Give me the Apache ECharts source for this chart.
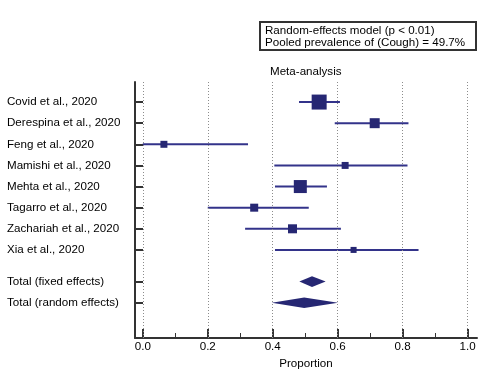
<!DOCTYPE html>
<html>
<head>
<meta charset="utf-8">
<script src="https://cdn.jsdelivr.net/npm/echarts@6/dist/echarts.min.js"></script>
<style>
html,body{margin:0;padding:0;background:#fff;}
#chart{width:486px;height:371px;}
</style>
</head>
<body>
<div id="chart"></div>
<script>
const studies = ['Covid et al., 2020','Derespina et al., 2020','Feng et al., 2020','Mamishi et al., 2020','Mehta et al., 2020','Tagarro et al., 2020','Zachariah et al., 2020','Xia et al., 2020'];
const estimates = [0.543, 0.714, 0.065, 0.623, 0.485, 0.343, 0.461, 0.649];
const lowerCI = [0.481, 0.591, 0.000, 0.405, 0.407, 0.200, 0.315, 0.407];
const upperCI = [0.607, 0.818, 0.324, 0.815, 0.567, 0.511, 0.610, 0.849];
const weights = [29.1, 12.9, 6.3, 6.3, 21.9, 8.3, 10.5, 4.7];
const pooledLabels = ['Total (fixed effects)', 'Total (random effects)'];
const pooledEst = [0.521, 0.497];
const pooledLower = [0.482, 0.397];
const pooledUpper = [0.563, 0.601];
const xTicks = [0, 0.2, 0.4, 0.6, 0.8, 1.0];
const xMinorTicks = [0.1, 0.3, 0.5, 0.7, 0.9];

const FONT = '"Liberation Sans", Arial, sans-serif';
const FS = 11.6;
const LINE_COLOR = '#33338a';
const BOX_COLOR = '#262773';
const AXIS_COLOR = '#333333';

// row positions
const studyPos = studies.map((s, i) => i + 1);
const pooledPos = pooledLabels.map((s, i) => studies.length + 1.5 + i);
const labelMap = {};
studies.forEach((s, i) => { labelMap[studyPos[i]] = s; });
pooledLabels.forEach((s, i) => { labelMap[pooledPos[i]] = s; });
const allPos = studyPos.concat(pooledPos);
const maxW = Math.max.apply(null, weights);

const studyData = studies.map((s, i) => [lowerCI[i], upperCI[i], estimates[i], studyPos[i], weights[i]]);
const pooledData = pooledLabels.map((s, i) => [pooledLower[i], pooledUpper[i], pooledEst[i], pooledPos[i]]);

const chart = echarts.init(document.getElementById('chart'), null, {renderer: 'canvas'});
chart.setOption({
  animation: false,
  textStyle: {fontFamily: FONT},
  title: [
    {
      text: 'Meta-analysis', left: 270, top: 66, padding: 0,
      textStyle: {fontSize: FS, fontWeight: 'normal', color: '#000', fontFamily: FONT}
    },
    {
      text: 'Random-effects model (p < 0.01)\nPooled prevalence of (Cough) = 49.7%',
      left: 260, top: 22, padding: [2, 11, 1, 5],
      borderColor: AXIS_COLOR, borderWidth: 2,
      textStyle: {fontSize: FS, lineHeight: 12.7, fontWeight: 'normal', color: '#000', fontFamily: FONT}
    }
  ],
  grid: {left: 135, right: 9, top: 82, bottom: 33, containLabel: false, outerBoundsMode: 'none'},
  xAxis: [
    {
      type: 'value', min: -0.024, max: 1.029, position: 'bottom',
      name: 'Proportion', nameLocation: 'middle', nameGap: 17,
      nameTextStyle: {fontSize: FS, color: '#000', fontFamily: FONT},
      axisLine: {show: true, onZero: false, lineStyle: {color: AXIS_COLOR, width: 2}},
      axisTick: {show: true, inside: true, length: 9, customValues: xTicks, lineStyle: {color: AXIS_COLOR, width: 2}},
      axisLabel: {show: true, customValues: xTicks, margin: 3, fontSize: FS, color: '#000', fontFamily: FONT,
        formatter: v => v.toFixed(1)},
      splitLine: {show: false}
    },
    {
      type: 'value', min: -0.024, max: 1.029, position: 'bottom',
      axisLine: {show: false, onZero: false},
      axisTick: {show: true, inside: true, length: 5, customValues: xMinorTicks, lineStyle: {color: AXIS_COLOR, width: 1}},
      axisLabel: {show: false},
      splitLine: {show: false}
    }
  ],
  yAxis: {
    type: 'value', inverse: true, min: 0.05, max: 12.17,
    axisLine: {show: true, onZero: false, lineStyle: {color: AXIS_COLOR, width: 2}},
    axisTick: {show: true, inside: true, length: 8, customValues: allPos, lineStyle: {color: AXIS_COLOR, width: 2}},
    axisLabel: {show: true, customValues: allPos, align: 'left', margin: 128, fontSize: FS, color: '#000', fontFamily: FONT,
      formatter: v => labelMap[v] || ''},
    splitLine: {show: false}
  },
  series: [
    {
      type: 'line', data: [], z: 1, silent: true,
      markLine: {
        silent: true, symbol: ['none', 'none'], label: {show: false},
        lineStyle: {type: [1, 2], color: '#8c8c8c', width: 1},
        data: xTicks.map(v => ({xAxis: v}))
      }
    },
    {
      type: 'custom', z: 3, silent: true,
      encode: {x: [0, 1, 2], y: 3},
      data: studyData,
      renderItem: function (params, api) {
        const y = api.value(3);
        const p1 = api.coord([api.value(0), y]);
        const p2 = api.coord([api.value(1), y]);
        const pc = api.coord([api.value(2), y]);
        const s = 15 * Math.sqrt(api.value(4) / maxW);
        return {
          type: 'group',
          children: [
            {type: 'line', shape: {x1: p1[0], y1: p1[1], x2: p2[0], y2: p2[1]}, style: {stroke: LINE_COLOR, lineWidth: 2}},
            {type: 'rect', shape: {x: pc[0] - s / 2, y: pc[1] - s / 2, width: s, height: s}, style: {fill: BOX_COLOR}}
          ]
        };
      }
    },
    {
      type: 'custom', z: 3, silent: true,
      encode: {x: [0, 1, 2], y: 3},
      data: pooledData,
      renderItem: function (params, api) {
        const y = api.value(3);
        const pl = api.coord([api.value(0), y]);
        const pu = api.coord([api.value(1), y]);
        const pc = api.coord([api.value(2), y]);
        const h = 5.3;
        return {
          type: 'polygon',
          shape: {points: [[pl[0], pl[1]], [pc[0], pc[1] - h], [pu[0], pu[1]], [pc[0], pc[1] + h]]},
          style: {fill: BOX_COLOR}
        };
      }
    }
  ]
});
</script>
</body>
</html>
